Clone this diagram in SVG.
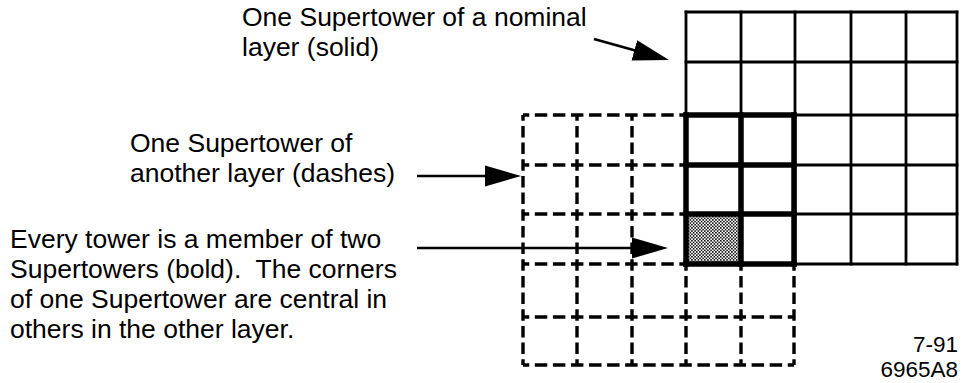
<svg xmlns="http://www.w3.org/2000/svg" width="965" height="383" viewBox="0 0 965 383">
  <style>
    .lbl { font-family: "Liberation Sans", Arial, Helvetica, sans-serif; font-size: 26.5px; fill: #000; white-space: pre; }
    .code { font-family: "Liberation Sans", Arial, Helvetica, sans-serif; font-size: 22.5px; fill: #000; text-anchor: end; }
    .dash { stroke: #000; stroke-width: 3.4; fill: none; stroke-dasharray: 2.3 1.033; stroke-dashoffset: 1.15; }
    .thin { stroke: #000; stroke-width: 2.8; fill: none; stroke-linecap: square; }
    .bold { stroke: #000; stroke-width: 5.5; fill: none; stroke-linecap: square; }
    .conn { stroke: #000; stroke-width: 2.6; fill: none; }
  </style>
  <defs>
    <marker id="head" markerUnits="userSpaceOnUse" markerWidth="40" markerHeight="24" viewBox="0 -12 40 24" refX="26" refY="0" orient="auto">
      <path d="M0,-10.5 L36,0 L0,10.5 Z" fill="#000"/>
    </marker>
    <pattern id="stipple" patternUnits="userSpaceOnUse" width="3.2" height="3.2">
      <rect width="3.2" height="3.2" fill="#fff"/>
      <rect x="0" y="0" width="1.5" height="1.5" fill="#000"/>
      <rect x="1.6" y="1.6" width="1.5" height="1.5" fill="#000"/>
    </pattern>
  </defs>
  <rect width="965" height="383" fill="#fff"/>

  <!-- Supertower of the other layer: dashed 5x5 grid -->
  <g id="dashed-supertower">
    <line class="dash" pathLength="50" x1="523" y1="115" x2="794" y2="115"/>
    <line class="dash" pathLength="50" x1="523" y1="165" x2="794" y2="165"/>
    <line class="dash" pathLength="50" x1="523" y1="214" x2="794" y2="214"/>
    <line class="dash" pathLength="50" x1="523" y1="264" x2="794" y2="264"/>
    <line class="dash" pathLength="50" x1="523" y1="317" x2="794" y2="317"/>
    <line class="dash" pathLength="50" x1="523" y1="365" x2="794" y2="365"/>
    <line class="dash" pathLength="50" x1="523" y1="115" x2="523" y2="365"/>
    <line class="dash" pathLength="50" x1="577" y1="115" x2="577" y2="365"/>
    <line class="dash" pathLength="50" x1="632" y1="115" x2="632" y2="365"/>
    <line class="dash" pathLength="50" x1="686" y1="115" x2="686" y2="365"/>
    <line class="dash" pathLength="50" x1="741" y1="115" x2="741" y2="365"/>
    <line class="dash" pathLength="50" x1="794" y1="115" x2="794" y2="365"/>
  </g>

  <!-- Supertower of the nominal layer: solid 5x5 grid -->
  <g id="solid-supertower">
    <rect x="686" y="12" width="271" height="252" fill="#fff" stroke="none"/>
    <rect x="686" y="214" width="55" height="50" fill="url(#stipple)"/>
    <line class="thin" x1="686" y1="12" x2="957" y2="12"/>
    <line class="thin" x1="686" y1="62" x2="957" y2="62"/>
    <line class="thin" x1="686" y1="115" x2="957" y2="115"/>
    <line class="thin" x1="686" y1="165" x2="957" y2="165"/>
    <line class="thin" x1="686" y1="214" x2="957" y2="214"/>
    <line class="thin" x1="686" y1="264" x2="957" y2="264"/>
    <line class="thin" x1="686" y1="12" x2="686" y2="264"/>
    <line class="thin" x1="741" y1="12" x2="741" y2="264"/>
    <line class="thin" x1="795" y1="12" x2="795" y2="264"/>
    <line class="thin" x1="851" y1="12" x2="851" y2="264"/>
    <line class="thin" x1="906" y1="12" x2="906" y2="264"/>
    <line class="thin" x1="957" y1="12" x2="957" y2="264"/>
  </g>

  <!-- Two overlapping 2x2 Supertowers (bold) -->
  <g id="bold-supertowers">
    <line class="bold" x1="686" y1="115" x2="794" y2="115"/>
    <line class="bold" x1="686" y1="165" x2="794" y2="165"/>
    <line class="bold" x1="686" y1="214" x2="794" y2="214"/>
    <line class="bold" x1="686" y1="264" x2="794" y2="264"/>
    <line class="bold" x1="686" y1="115" x2="686" y2="264"/>
    <line class="bold" x1="741" y1="115" x2="741" y2="264"/>
    <line class="bold" x1="794" y1="115" x2="794" y2="264"/>
  </g>

  <!-- Labels -->
  <g id="label-nominal">
    <text class="lbl" x="242" y="26">One Supertower of a nominal</text>
    <text class="lbl" x="242" y="56">layer (solid)</text>
  </g>
  <g id="label-other">
    <text class="lbl" x="130" y="152">One Supertower of</text>
    <text class="lbl" x="130" y="182">another layer (dashes)</text>
  </g>
  <g id="label-member">
    <text class="lbl" x="10" y="248">Every tower is a member of two</text>
    <text class="lbl" x="10" y="278" xml:space="preserve">Supertowers (bold).  The corners</text>
    <text class="lbl" x="10" y="308">of one Supertower are central in</text>
    <text class="lbl" x="10" y="338">others in the other layer.</text>
  </g>
  <g id="figure-code">
    <text class="code" x="958" y="352">7-91</text>
    <text class="code" x="958" y="377">6965A8</text>
  </g>

  <!-- Connectors -->
  <g id="connectors">
    <line class="conn" x1="594" y1="39" x2="659.4" y2="57.3" marker-end="url(#head)"/>
    <line class="conn" x1="417" y1="176" x2="511" y2="176" marker-end="url(#head)"/>
    <line class="conn" x1="417" y1="248" x2="658" y2="248" marker-end="url(#head)"/>
  </g>
</svg>
